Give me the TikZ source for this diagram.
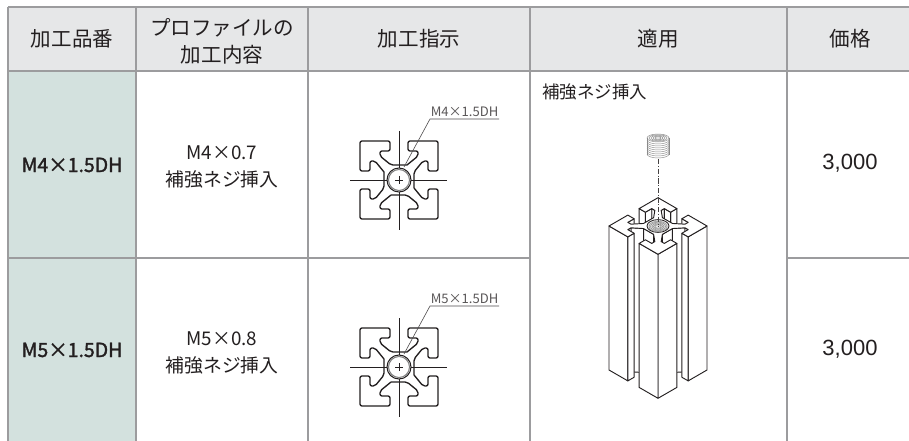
\documentclass[tikz,border=0pt]{standalone}
\usepackage{fontspec}
\newfontfamily\jp{Noto Sans CJK JP}
\newfontfamily\jpsb{Noto Sans CJK JP}[FakeBold=1.6]
\newfontfamily\arialf{Liberation Sans}
\definecolor{hdrgray}{HTML}{E6E7E8}
\definecolor{grn}{HTML}{D3E1DE}
\definecolor{lgray}{HTML}{9C9C9E}
\definecolor{ink}{HTML}{231F20}
\definecolor{thr}{HTML}{8A8A8A}

\newcommand\proficon[3]{%
 \begin{scope}[shift={(#1,#2)}]
  \foreach \r in {0,90,180,270}{
    \draw[profline, rotate=\r] (-8,15) -- (-19,24) -- (-19,29) -- (-9,29) -- (-9,39)
      -- (-39,39) -- (-39,9) -- (-29,9) -- (-29,19) -- (-24,19) -- (-15,8) -- (-15,-8);
  }
  \draw[ringline] (0,0) circle [radius=12];
  \draw[ringline, draw=gray] (0,0) circle [radius=10.5];
  \draw[thin, ink] (-4,0) -- (4,0) (0,-4) -- (0,4);
  \draw[cross] (-49,0) -- (-12,0) (12,0) -- (48,0) (0,-49) -- (0,-12) (0,12) -- (0,50);
  \draw[leader] (5,-13) -- (31,-61) -- (100,-61);
  \node[iconlabel, anchor=base west] at (31.5,-63.5) {#3};
 \end{scope}}

\newcommand\wallq[4]{\filldraw[iso] (#1,#2,0) -- (#3,#4,0) -- (#3,#4,-144) -- (#1,#2,-144) -- cycle;}

\begin{document}
\begin{tikzpicture}[x=0.75pt,y=-0.75pt,
  tline/.style={draw=lgray, line width=1.9pt},
  hdrtext/.style={inner sep=0pt, text=ink, font=\jp\fontsize{15.4}{20}\selectfont, align=center},
  bodytext/.style={inner sep=0pt, text=ink, font=\jp\fontsize{14.1}{20.2}\selectfont, align=center},
  codetext/.style={inner sep=0pt, text=ink, font=\jpsb\fontsize{14.6}{18}\selectfont},
  pricetext/.style={inner sep=0pt, text=ink, font=\arialf\fontsize{16.5}{20}\selectfont},
  applabel/.style={inner sep=0pt, text=ink, font=\jp\fontsize{13.1}{16}\selectfont},
  iconlabel/.style={inner sep=0pt, text=ink!75, font=\jp\fontsize{9.8}{12}\selectfont},
  profline/.style={draw=ink, line width=1pt, rounded corners=1.5pt},
  ringline/.style={draw=ink, line width=0.8pt},
  cross/.style={draw=ink, line width=0.55pt},
  leader/.style={draw=ink!80, line width=0.45pt},
  iso/.style={draw=ink, fill=white, line width=0.7pt, line join=round},
  thread/.style={draw=thr, line width=0.35pt},
  centerl/.style={draw=ink!85, line width=0.45pt, dash pattern=on 4pt off 1.2pt on 0.8pt off 1.2pt}]
\useasboundingbox (0,0) rectangle (909,441);
% fills
\fill[white] (0,0) rectangle (909,441);
\fill[hdrgray] (8,7) rectangle (909,71);
\fill[grn] (8,71) rectangle (136,441);
% grid
\draw[tline] (8,7) -- (909,7);
\draw[tline] (8,71) -- (909,71);
\draw[tline] (8,258) -- (530,258);
\draw[tline] (787,258) -- (909,258);
\foreach \xx in {8,136,308,530,787} \draw[tline] (\xx,7) -- (\xx,441);
% header texts
\node[hdrtext] (h1) at (72,39) {加工品番};
\node[hdrtext] (h2) at (222,41) {プロファイルの\\加工内容};
\node[hdrtext] (h3) at (419,39) {加工指示};
\node[hdrtext] (h4) at (658,39) {適用};
\node[hdrtext] (h5) at (850,39) {価格};
% body texts
\node[codetext] (c1) at (72,165) {M4×1.5DH};
\node[codetext] (c2) at (72,350) {M5×1.5DH};
\node[bodytext] (d1) at (222,167) {M4×0.7\\補強ネジ挿入};
\node[bodytext] (d2) at (222,353) {M5×0.8\\補強ネジ挿入};
\node[pricetext] (p1) at (850,163) {3,000};
\node[pricetext] (p2) at (850,349) {3,000};
\node[applabel, anchor=west] (ap) at (542,92) {補強ネジ挿入};
% icons
\proficon{399}{180}{M4×1.5DH}
\proficon{399}{367}{M5×1.5DH}
% screw
\fill[white] (647,138) rectangle (669,155);
\fill[white] (658,155) ellipse [x radius=11, y radius=4];
\foreach \yy in {140,142,...,155} \draw[thread] (647,\yy) arc[start angle=180, end angle=0, x radius=11, y radius=4];
\draw[thread] (647,138) -- (647,155) (669,138) -- (669,155);
\foreach \rr in {11,9,7,5,3} \draw[thread] (658,138) ellipse [x radius=\rr, y radius=\rr*4/11];
% isometric profile
\begin{scope}[shift={(658,226)}]
\begin{scope}[x={(0.4713pt,-0.2721pt)}, y={(-0.4713pt,-0.2721pt)}, z={(0pt,0.75pt)}]
\wallq{-24}{-19}{-29}{-19}
\wallq{-19}{-29}{-19}{-24}
\wallq{-29}{-19}{-29}{-9}
\wallq{-29}{-9}{-39}{-9}
\wallq{-9}{-39}{-9}{-29}
\wallq{-9}{-29}{-19}{-29}
\wallq{-29}{9}{-29}{19}
\wallq{19}{-29}{9}{-29}
\wallq{-8}{15}{-19}{24}
\wallq{24}{-19}{15}{-8}
\wallq{-19}{24}{-19}{29}
\wallq{29}{-19}{24}{-19}
\wallq{-9}{39}{-39}{39}
\wallq{39}{-39}{39}{-9}
\wallq{15}{-8}{15}{8}
\wallq{8}{15}{-8}{15}
\wallq{-9}{29}{-9}{39}
\wallq{39}{-9}{29}{-9}
\wallq{15}{8}{24}{19}
\wallq{19}{24}{8}{15}
\wallq{39}{9}{39}{39}
\wallq{39}{39}{9}{39}
\filldraw[iso] (-8,15) -- (-19,24) -- (-19,29) -- (-9,29) -- (-9,39) -- (-39,39) -- (-39,9) -- (-29,9) -- (-29,19) -- (-24,19) -- (-15,8)
 -- (-15,-8) -- (-24,-19) -- (-29,-19) -- (-29,-9) -- (-39,-9) -- (-39,-39) -- (-9,-39) -- (-9,-29) -- (-19,-29) -- (-19,-24) -- (-8,-15)
 -- (8,-15) -- (19,-24) -- (19,-29) -- (9,-29) -- (9,-39) -- (39,-39) -- (39,-9) -- (29,-9) -- (29,-19) -- (24,-19) -- (15,-8)
 -- (15,8) -- (24,19) -- (29,19) -- (29,9) -- (39,9) -- (39,39) -- (9,39) -- (9,29) -- (19,29) -- (19,24) -- (8,15) -- cycle;
\end{scope}
\end{scope}
\filldraw[fill=gray!22, draw=ink, line width=0.6pt] (658,226) ellipse [x radius=11, y radius=6.4];
\foreach \rr in {9,7.5,6,4.5,3} \draw[thread] (658,226.5) ellipse [x radius=\rr, y radius=\rr*0.58];
\draw[centerl] (658,159) -- (658,227);
\end{tikzpicture}
\end{document}
